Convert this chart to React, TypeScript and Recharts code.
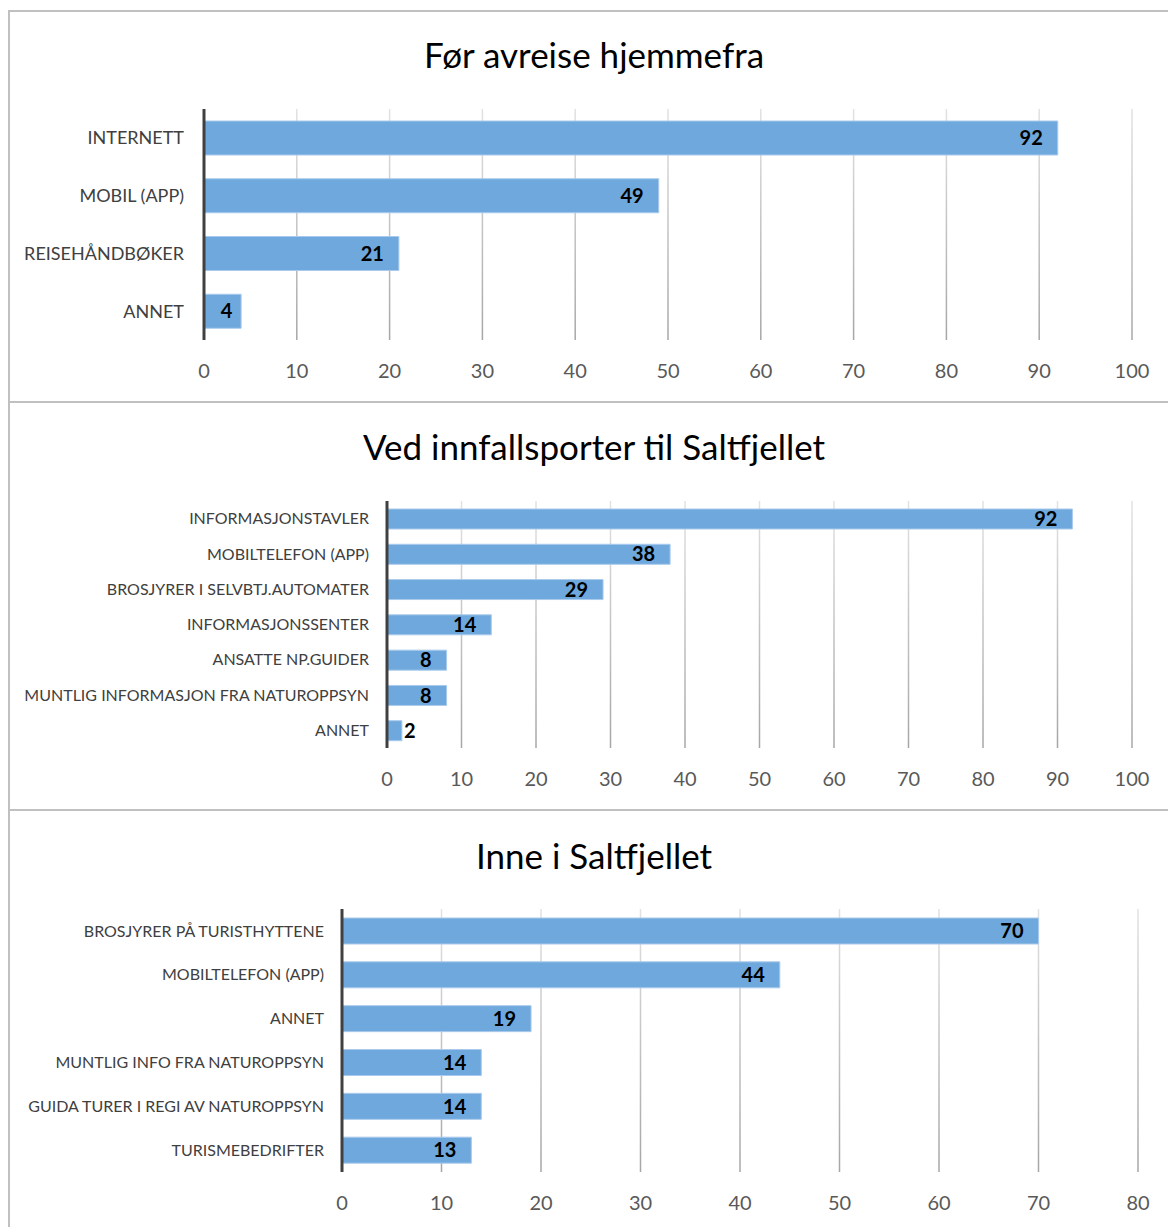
import { BarChart, Bar, XAxis, YAxis, CartesianGrid, LabelList } from 'recharts'

// Panel 1: before leaving home
const beforeCats = ['INTERNETT', 'MOBIL (APP)', 'REISEHÅNDBØKER', 'ANNET']
const beforeVals = [92, 49, 21, 4]

// Panel 2: at the entry points
const entryCats = [
  'INFORMASJONSTAVLER',
  'MOBILTELEFON (APP)',
  'BROSJYRER I SELVBTJ.AUTOMATER',
  'INFORMASJONSSENTER',
  'ANSATTE NP.GUIDER',
  'MUNTLIG INFORMASJON FRA NATUROPPSYN',
  'ANNET',
]
const entryVals = [92, 38, 29, 14, 8, 8, 2]

// Panel 3: inside Saltfjellet
const insideCats = [
  'BROSJYRER PÅ TURISTHYTTENE',
  'MOBILTELEFON (APP)',
  'ANNET',
  'MUNTLIG INFO FRA NATUROPPSYN',
  'GUIDA TURER I REGI AV NATUROPPSYN',
  'TURISMEBEDRIFTER',
]
const insideVals = [70, 44, 19, 14, 14, 13]

const ticks100 = [0, 10, 20, 30, 40, 50, 60, 70, 80, 90, 100]
const ticks80 = [0, 10, 20, 30, 40, 50, 60, 70, 80]

const FONT = 'Lato, "Noto Sans", sans-serif'
const BORDER = '#c0c0c0'

function ValueLabel(props: any) {
  const { x, y, width, height, value } = props
  let tx = x + width - 15
  let anchor: 'end' | 'middle' | 'start' = 'end'
  if (width < 25) {
    tx = x + width + 2
    anchor = 'start'
  } else if (width < 45) {
    tx = x + width / 2 + 4
    anchor = 'middle'
  }
  return (
    <text
      x={tx}
      y={y + height / 2}
      dy="0.36em"
      textAnchor={anchor}
      fontFamily={FONT}
      fontWeight={700}
      fontSize={20}
      fill="#000"
    >
      {value}
    </text>
  )
}

type PanelProps = {
  id: string
  title: string
  cats: string[]
  vals: number[]
  ticks: number[]
  top: number
  height: number
  titleY: number
  axisX: number
  right: number
  plotTop: number
  plotBottom: number
  barSize: number
  catFont: number
  catGap: number
}

function Panel(p: PanelProps) {
  const data = p.cats.map((name, i) => ({ name, value: p.vals[i] }))
  const xAxisH = 30
  const marginTop = p.plotTop - p.top
  const marginBottom = p.height - (p.plotBottom - p.top) - xAxisH
  const max = p.ticks[p.ticks.length - 1]
  return (
    <>
      <div
        style={{
          position: 'absolute',
          left: 8,
          top: p.top,
          width: 1172,
          height: p.height,
          borderTop: `2px solid ${BORDER}`,
          borderLeft: `2px solid ${BORDER}`,
          boxSizing: 'border-box',
        }}
      />
      <div
        style={{
          position: 'absolute',
          left: 8,
          width: 1172,
          top: p.titleY - 22,
          height: 44,
          lineHeight: '44px',
          textAlign: 'center',
          fontFamily: FONT,
          fontSize: 35,
          color: '#000',
        }}
      >
        {p.title}
      </div>
      <div style={{ position: 'absolute', left: 0, top: p.top }}>
        <BarChart
          width={1168}
          height={p.height}
          data={data}
          layout="vertical"
          margin={{ top: marginTop, right: p.right, bottom: marginBottom, left: 0 }}
        >
          <defs>
            <linearGradient
              id={`grid-${p.id}`}
              gradientUnits="userSpaceOnUse"
              x1="0"
              y1={marginTop}
              x2="0"
              y2={p.plotBottom - p.top}
            >
              <stop offset="0%" stopColor="#e2e2e2" />
              <stop offset="100%" stopColor="#a6a6a6" />
            </linearGradient>
          </defs>
          <CartesianGrid
            horizontal={false}
            stroke={`url(#grid-${p.id})`}
            strokeWidth={1.5}
          />
          <XAxis
            type="number"
            domain={[0, max]}
            ticks={p.ticks}
            interval={0}
            height={xAxisH}
            axisLine={false}
            tickLine={false}
            tickMargin={18}
            tick={{ fill: '#595959', fontSize: 20, fontFamily: FONT }}
          />
          <YAxis
            type="category"
            dataKey="name"
            width={p.axisX}
            interval={0}
            axisLine={{ stroke: '#404040', strokeWidth: 3 }}
            tickLine={false}
            tickMargin={p.catGap}
            tick={{ fill: '#404040', fontSize: p.catFont, fontFamily: FONT }}
          />
          <Bar
            dataKey="value"
            fill="#6fa8dc"
            stroke="#a9caec"
            strokeWidth={1}
            barSize={p.barSize}
            isAnimationActive={false}
          >
            <LabelList dataKey="value" content={ValueLabel} />
          </Bar>
        </BarChart>
      </div>
    </>
  )
}

export default function App() {
  return (
    <div
      style={{
        position: 'fixed',
        left: 0,
        top: 0,
        width: 1168,
        height: 1227,
        overflow: 'hidden',
        background: '#fff',
      }}
    >
      <Panel
        id="a"
        title="Før avreise hjemmefra"
        cats={beforeCats}
        vals={beforeVals}
        ticks={ticks100}
        top={10}
        height={392}
        titleY={54}
        axisX={204}
        right={36}
        plotTop={109}
        plotBottom={340}
        barSize={34}
        catFont={18}
        catGap={14}
      />
      <Panel
        id="b"
        title="Ved innfallsporter til Saltfjellet"
        cats={entryCats}
        vals={entryVals}
        ticks={ticks100}
        top={401}
        height={408}
        titleY={446}
        axisX={387}
        right={36}
        plotTop={501}
        plotBottom={748}
        barSize={20}
        catFont={16}
        catGap={12}
      />
      <Panel
        id="c"
        title="Inne i Saltfjellet"
        cats={insideCats}
        vals={insideVals}
        ticks={ticks80}
        top={809}
        height={418}
        titleY={855}
        axisX={342}
        right={30}
        plotTop={909}
        plotBottom={1172}
        barSize={26}
        catFont={16}
        catGap={12}
      />
    </div>
  )
}
